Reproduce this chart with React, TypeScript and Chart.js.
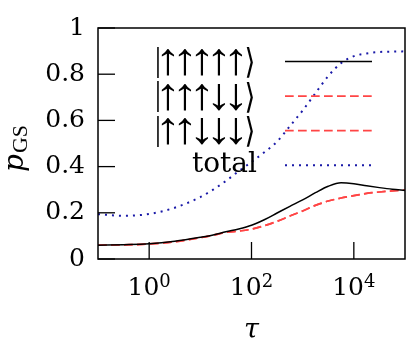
import React, { useEffect, useRef } from "react";
import { Chart, registerables } from "chart.js";

Chart.register(...registerables);

// x samples: tau (log-spaced)
const tau = [0.1, 0.3162, 1, 3.162, 10, 17.78, 31.62, 56.23, 100, 177.8, 316.2, 562.3, 1000, 1778, 3162, 5623, 10000, 17783, 31623, 56234, 100000];

// |↑↑↑↑↑⟩
const pAllUp = [0.060, 0.062, 0.066, 0.077, 0.094, 0.104, 0.118, 0.130, 0.146, 0.170, 0.199, 0.228, 0.256, 0.287, 0.315, 0.330, 0.326, 0.317, 0.309, 0.302, 0.297];
// |↑↑↑↓↓⟩
const pThreeUp = [0.060, 0.061, 0.065, 0.075, 0.092, 0.103, 0.115, 0.121, 0.129, 0.144, 0.163, 0.186, 0.208, 0.232, 0.251, 0.264, 0.274, 0.284, 0.290, 0.295, 0.298];
// |↑↑↓↓↓⟩
const pTwoUp = [0.060, 0.061, 0.065, 0.075, 0.092, 0.103, 0.115, 0.121, 0.129, 0.144, 0.163, 0.186, 0.208, 0.232, 0.251, 0.264, 0.274, 0.284, 0.290, 0.295, 0.298];
// total
const pTotal = [0.194, 0.187, 0.195, 0.222, 0.268, 0.300, 0.338, 0.380, 0.420, 0.462, 0.508, 0.575, 0.643, 0.718, 0.792, 0.848, 0.878, 0.890, 0.896, 0.898, 0.899];

const seriesLabels = ["|↑↑↑↑↑⟩", "|↑↑↑↓↓⟩", "|↑↑↓↓↓⟩", "total"];
const xTickValues = [1, 100, 10000];
const xTickBase = "10";
const xTickExponents = ["0", "2", "4"];

const SERIF = "'DejaVu Serif', serif";

function drawGlyph(ctx: CanvasRenderingContext2D, ch: string, font: string, cx: number, cy: number, targetW: number | null, targetH: number) {
  ctx.font = font;
  ctx.textAlign = "left";
  ctx.textBaseline = "alphabetic";
  const m = ctx.measureText(ch);
  const inkW = m.actualBoundingBoxLeft + m.actualBoundingBoxRight;
  const inkH = m.actualBoundingBoxAscent + m.actualBoundingBoxDescent;
  const sy = targetH / inkH;
  const sx = targetW ? targetW / inkW : sy;
  const xc = (-m.actualBoundingBoxLeft + m.actualBoundingBoxRight) / 2;
  const yc = (-m.actualBoundingBoxAscent + m.actualBoundingBoxDescent) / 2;
  ctx.save();
  ctx.translate(cx, cy);
  ctx.scale(sx, sy);
  ctx.fillText(ch, -xc, -yc);
  ctx.restore();
}

const framePlugin = {
  id: "frameAndExtras",
  afterDraw(chart: any) {
    const ctx = chart.ctx;
    const { left, right, top, bottom } = chart.chartArea;
    ctx.save();
    // frame
    ctx.strokeStyle = "#000";
    ctx.lineWidth = 1.5;
    ctx.strokeRect(left, top, right - left, bottom - top);
    // inward ticks
    const tl = 17;
    ctx.lineWidth = 1.3;
    chart.scales.y.ticks.forEach((t: any) => {
      const y = chart.scales.y.getPixelForValue(t.value);
      ctx.beginPath();
      ctx.moveTo(left, y);
      ctx.lineTo(left + tl, y);
      ctx.stroke();
    });
    chart.scales.x.ticks.forEach((t: any) => {
      const x = chart.scales.x.getPixelForValue(t.value);
      ctx.beginPath();
      ctx.moveTo(x, bottom);
      ctx.lineTo(x, bottom - tl);
      ctx.stroke();
    });

    // x tick labels: 10^n
    ctx.fillStyle = "#000";
    ctx.textAlign = "left";
    ctx.textBaseline = "alphabetic";
    xTickValues.forEach((v, i) => {
      const x = chart.scales.x.getPixelForValue(v);
      ctx.font = "25px " + SERIF;
      const w1 = ctx.measureText(xTickBase).width;
      ctx.font = "18px " + SERIF;
      const w2 = ctx.measureText(xTickExponents[i]).width;
      const x0 = x - (w1 + w2) / 2;
      ctx.font = "25px " + SERIF;
      ctx.fillText(xTickBase, x0, bottom + 36);
      ctx.font = "18px " + SERIF;
      ctx.fillText(xTickExponents[i], x0 + w1, bottom + 28);
    });

    // legend
    chart.data.datasets.forEach((ds: any, i: number) => {
      const y = top + 33.5 + i * 34.6;
      const textRight = left + 159;
      ctx.fillStyle = "#000";
      if (i < 3) {
        const chars = Array.from(ds.label as string);
        let k = 0;
        chars.forEach((ch) => {
          if (ch === "|") {
            drawGlyph(ctx, ch, "40px 'Liberation Serif', serif", textRight - 99, y + 0.8, 1.6, 32);
          } else if (ch === "⟩") {
            drawGlyph(ctx, ch, "40px 'DejaVu Sans', sans-serif", textRight - 7, y + 0.8, 7, 32);
          } else {
            drawGlyph(ctx, ch, "40px 'Liberation Serif', serif", textRight - 89 + 17 * k, y + 0.8, 13, 28);
            k++;
          }
        });
      } else {
        ctx.font = "28px " + SERIF;
        ctx.textAlign = "right";
        ctx.textBaseline = "alphabetic";
        ctx.fillText(ds.label, textRight, y + 7);
      }
      ctx.save();
      ctx.strokeStyle = ds.borderColor;
      ctx.lineWidth = ds.borderWidth;
      ctx.setLineDash(ds.borderDash || []);
      ctx.beginPath();
      ctx.moveTo(left + 187, y);
      ctx.lineTo(left + 274, y);
      ctx.stroke();
      ctx.restore();
    });

    // y axis title p_GS
    ctx.save();
    ctx.translate(23, 172);
    ctx.rotate(-Math.PI / 2);
    ctx.fillStyle = "#000";
    ctx.textBaseline = "alphabetic";
    ctx.textAlign = "left";
    ctx.font = "italic 28px " + SERIF;
    const pw = ctx.measureText("p").width;
    ctx.fillText("p", 0, 0);
    ctx.font = "22px 'Liberation Serif', serif";
    ctx.fillText("GS", pw + 1, 4);
    ctx.restore();

    ctx.restore();
  },
};

export default function App() {
  const ref = useRef<HTMLCanvasElement | null>(null);
  useEffect(() => {
    document.body.style.margin = "0";
    const canvas = ref.current!;
    const chart = new Chart(canvas, {
      type: "line",
      data: {
        datasets: [
          {
            label: seriesLabels[0],
            data: tau.map((t, i) => ({ x: t, y: pAllUp[i] })),
            borderColor: "#000000",
            borderWidth: 1.5,
            pointRadius: 0,
            cubicInterpolationMode: "monotone",
          },
          {
            label: seriesLabels[1],
            data: tau.map((t, i) => ({ x: t, y: pThreeUp[i] })),
            borderColor: "#ff4545",
            borderWidth: 1.7,
            borderDash: [8.7, 4.3],
            pointRadius: 0,
            cubicInterpolationMode: "monotone",
          },
          {
            label: seriesLabels[2],
            data: tau.map((t, i) => ({ x: t, y: pTwoUp[i] })),
            borderColor: "#ff4545",
            borderWidth: 1.7,
            borderDash: [8.7, 4.3],
            pointRadius: 0,
            cubicInterpolationMode: "monotone",
          },
          {
            label: seriesLabels[3],
            data: tau.map((t, i) => ({ x: t, y: pTotal[i] })),
            borderColor: "#1a1aa8",
            borderWidth: 2,
            borderDash: [2, 5],
            pointRadius: 0,
            cubicInterpolationMode: "monotone",
          },
        ],
      },
      options: {
        responsive: false,
        animation: false,
        layout: { padding: { top: 23, right: 1, left: 0, bottom: 0 } },
        plugins: { legend: { display: false }, tooltip: { enabled: false } },
        scales: {
          x: {
            type: "logarithmic",
            min: 0.1,
            max: 100000,
            afterBuildTicks: (scale: any) => {
              scale.ticks = xTickValues.map((v) => ({ value: v, major: true }));
            },
            afterFit: (scale: any) => {
              scale.height = 92;
            },
            grid: { display: false, drawTicks: false },
            border: { display: false },
            ticks: { display: false },
            title: {
              display: true,
              text: "τ",
              color: "#000",
              font: { family: SERIF, size: 27, style: "italic" },
              padding: { top: 0, bottom: 4 },
            },
          },
          y: {
            min: 0,
            max: 1,
            afterFit: (scale: any) => {
              scale.width = 98;
            },
            grid: { display: false, drawTicks: false },
            border: { display: false },
            ticks: {
              stepSize: 0.2,
              padding: 13,
              color: "#000",
              font: { family: SERIF, size: 25 },
              callback: (v: any) => String(Math.round(Number(v) * 10) / 10),
            },
          },
        },
      },
      plugins: [framePlugin],
    } as any);
    return () => chart.destroy();
  }, []);
  return (
    <div style={{ width: 406, height: 351, background: "#fff" }}>
      <canvas ref={ref} width={406} height={351} />
    </div>
  );
}
